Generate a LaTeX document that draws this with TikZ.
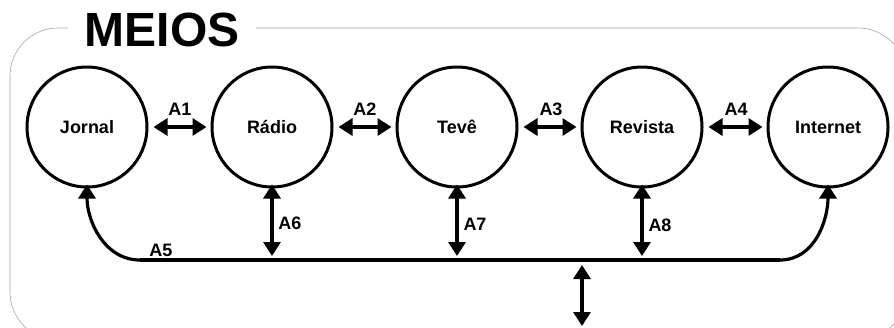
\documentclass[tikz,border=0pt]{standalone}
\usepackage{fontspec}
\setmainfont{Liberation Sans}
\usetikzlibrary{arrows.meta}
\begin{document}
\begin{tikzpicture}[x=1pt,y=-1pt,
  medium/.style={circle, draw=black, line width=3pt, minimum size=120pt, inner sep=0pt, font=\bfseries\fontsize{18}{18}\selectfont},
  link/.style={line width=3.2pt, {Triangle[width=17pt,length=14pt]}-{Triangle[width=17pt,length=14pt]}},
  uplink/.style={line width=3.2pt, -{Triangle[width=17pt,length=14pt]}},
  lbl/.style={font=\bfseries\fontsize{18}{18}\selectfont, inner sep=0pt}]
\useasboundingbox (0,0) rectangle (894,327);
\begin{scope}
\clip (0,0) rectangle (894,327);
\draw[gray!70, line width=0.6pt, rounded corners=48pt]
  (68,28) -- (10,28) -- (10,340) -- (906,340) -- (906,28) -- (256,28);
\end{scope}
\node[font=\bfseries\fontsize{48}{48}\selectfont, inner sep=0pt] (title) at (162,30) {MEIOS};
\node[medium] (j) at (87,127) {Jornal};
\node[medium] (r) at (272,127) {Rádio};
\node[medium] (t) at (457,127) {Tevê};
\node[medium] (v) at (642,127) {Revista};
\node[medium] (i) at (828,127) {Internet};
\draw[link] ([xshift=5pt]j.east) -- ([xshift=-4pt]r.west);
\draw[link] ([xshift=5pt]r.east) -- ([xshift=-4pt]t.west);
\draw[link] ([xshift=5pt]t.east) -- ([xshift=-4pt]v.west);
\draw[link] ([xshift=5pt]v.east) -- ([xshift=-4pt]i.west);
\node[lbl] (a1) at (180,109) {A1};
\node[lbl] (a2) at (365,109) {A2};
\node[lbl] (a3) at (551,109) {A3};
\node[lbl] (a4) at (736,109) {A4};
\coordinate (bl) at (140,260);
\coordinate (br) at (780,260);
\draw[line width=3.2pt] (bl) -- (br);
\draw[uplink] (bl) to[out=180,in=-90] ([yshift=4pt]j.south);
\draw[uplink] (br) to[out=0,in=-90] ([yshift=4pt]i.south);
\draw[link] ([yshift=4pt]r.south) -- (272,256) coordinate (r6);
\draw[link] ([yshift=4pt]t.south) -- (457,256) coordinate (t7);
\draw[link] ([yshift=4pt]v.south) -- (642,256) coordinate (v8);
\node[lbl] (a5) at (161,250) {A5};
\node[lbl] (a6) at (290,223) {A6};
\node[lbl] (a7) at (475,224) {A7};
\node[lbl] (a8) at (660,225) {A8};
\coordinate (d1) at (582,265);
\coordinate (d2) at (582,326);
\draw[link] (d1) -- (d2);
\end{tikzpicture}
\end{document}
